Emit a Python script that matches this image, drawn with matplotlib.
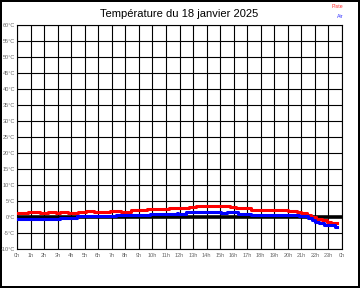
import numpy as np
import matplotlib
matplotlib.use("Agg")
import matplotlib.pyplot as plt

# temperature de la piste (heures, degres C)
piste_t = [0, 0.8, 1.7, 2.3, 2.9, 3.2, 3.8, 4.5, 5.1, 5.7, 6.9, 7.7, 8.4, 9.6, 11.2,
           12.7, 13.2, 15.7, 16.2, 17.3, 20.0, 20.7, 21.0, 21.4, 21.7, 22.1, 22.5,
           22.9, 23.2, 23.6]
piste_v = [1.4, 1.7, 1.4, 1.6, 1.4, 1.7, 1.4, 1.6, 2.0, 1.7, 2.0, 1.7, 2.1, 2.4, 2.8,
           3.0, 3.4, 3.0, 2.7, 2.3, 2.0, 1.7, 1.2, 0.6, -0.1, -0.5, -1.0,
           -1.5, -1.8, -1.8]

# temperature de l'air
air_t = [0, 3.2, 4.4, 7.3, 9.8, 11.2, 11.8, 11.9, 12.5, 15.1, 15.5, 16.3, 17.3,
         20.8, 21.2, 21.5, 21.8, 22.0, 22.3, 22.7, 23.2, 23.5, 23.6]
air_v = [-0.5, -0.2, 0.2, 0.5, 0.8, 1.0, 1.4, 0.95, 1.6, 1.2, 1.6, 1.0, 0.7,
         0.4, 0.2, -0.3, -1.0, -1.5, -2.0, -2.4, -2.6, -3.0, -3.0]

hours = np.arange(0, 25)
hour_labels = [f"{h % 24}h" for h in hours]
temps = np.arange(-10, 61, 5)
temp_labels = [f"{t}°C" for t in temps]

plt.rcParams['font.family'] = ['Liberation Sans', 'DejaVu Sans']

fig = plt.figure(figsize=(3.6, 2.88), dpi=100)
fig.patch.set_edgecolor('black')
fig.patch.set_linewidth(1.5)
ax = fig.add_axes([17/360, 1 - 249/288, 325/360, 224/288])

ax.set_xlim(0, 24)
ax.set_ylim(-10, 60)
ax.set_xticks(hours)
ax.set_xticklabels(hour_labels)
ax.set_yticks(temps)
ax.set_yticklabels(temp_labels)
ax.tick_params(axis='y', length=0, labelsize=4, labelcolor='#666666', pad=1.5)
ax.tick_params(axis='x', length=0, labelsize=4, labelcolor='#666666', pad=3)
ax.grid(True, color='black', linewidth=0.8)
ax.set_axisbelow(True)
for s in ax.spines.values():
    s.set_color('black')
    s.set_linewidth(0.8)

ax.axhline(0, color='black', linewidth=2.6, zorder=2)
ax.plot(piste_t, piste_v, drawstyle='steps-post', color='#ff0000', linewidth=2.2, zorder=3)
ax.plot(air_t, air_v, drawstyle='steps-post', color='#0000ff', linewidth=2.2, zorder=3)

fig.text(179/360, 1 - 14/288, "Température du 18 janvier 2025", ha='center', va='center',
         fontsize=8, color='black')
fig.text(343/360, 1 - 7/288, "Piste", ha='right', va='center', fontsize=3.8, color='#ff3030')
fig.text(343/360, 1 - 16/288, "Air", ha='right', va='center', fontsize=3.8, color='#3030ff')

fig.savefig("out.png", dpi=100, edgecolor=fig.get_edgecolor())
